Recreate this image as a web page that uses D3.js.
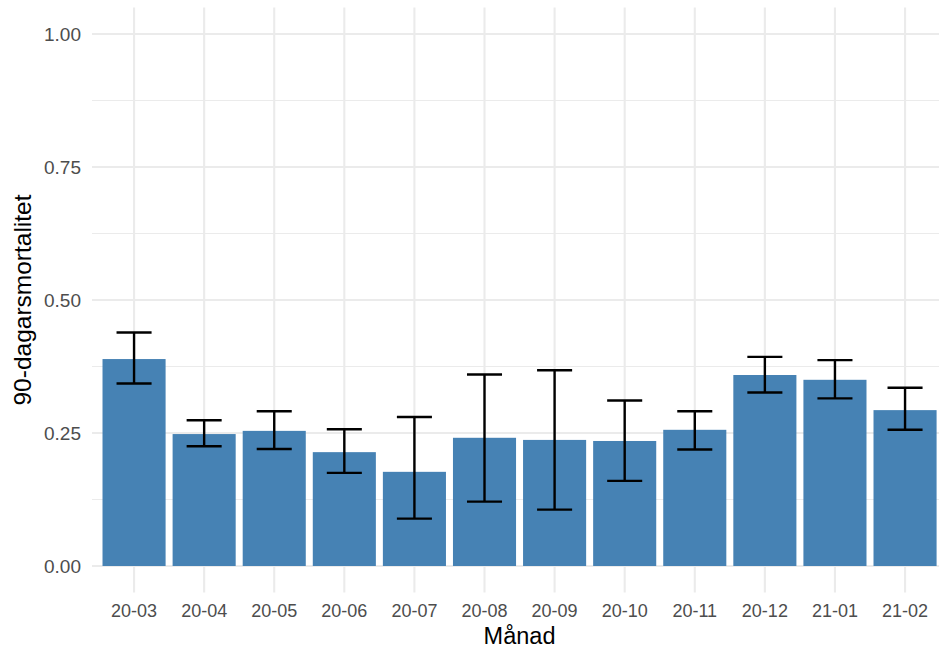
<!DOCTYPE html>
<html>
<head>
<meta charset="utf-8">
<script src="https://cdn.jsdelivr.net/npm/d3@7"></script>
<style>
  body { margin: 0; background: #fff; }
  svg { display: block; font-family: "Liberation Sans", Arial, sans-serif; }
</style>
</head>
<body>
<svg id="chart" width="939" height="651"></svg>
<script>
let months = ["20-03", "20-04", "20-05", "20-06", "20-07", "20-08", "20-09", "20-10", "20-11", "20-12", "21-01", "21-02"];
let mortality = [0.389, 0.248, 0.254, 0.214, 0.177, 0.241, 0.237, 0.235, 0.256, 0.359, 0.350, 0.293];
let lower = [0.343, 0.225, 0.220, 0.175, 0.089, 0.121, 0.106, 0.160, 0.219, 0.326, 0.315, 0.256];
let upper = [0.439, 0.274, 0.291, 0.257, 0.280, 0.360, 0.368, 0.311, 0.291, 0.393, 0.387, 0.335];
let yTicks = [0, 0.25, 0.5, 0.75, 1];
let yMinor = [0.125, 0.375, 0.625, 0.875];

let data = months.map((m, i) => ({month: m, value: mortality[i], lo: lower[i], hi: upper[i]}));

let svg = d3.select("#chart");

// x: discrete, bars 0.9 wide, 0.6 units of expansion on each side
let xScale = d3.scaleBand()
  .domain(months)
  .range([92, 947.1])
  .paddingInner(0.1)
  .paddingOuter(0.15);

let yScale = d3.scaleLinear().domain([0, 1]).range([566, 34]);
let panelTop = yScale(1.05), panelBottom = yScale(-0.05);
let panelLeft = 92, panelRight = 947.1;

// grid
svg.append("g").selectAll("line")
  .data(yMinor)
  .enter().append("line")
  .attr("x1", panelLeft).attr("x2", panelRight)
  .attr("y1", d => yScale(d)).attr("y2", d => yScale(d))
  .attr("stroke", "#ebebeb").attr("stroke-width", 1.1);

svg.append("g").selectAll("line")
  .data(yTicks)
  .enter().append("line")
  .attr("x1", panelLeft).attr("x2", panelRight)
  .attr("y1", d => yScale(d)).attr("y2", d => yScale(d))
  .attr("stroke", "#ebebeb").attr("stroke-width", 2.1);

svg.append("g").selectAll("line")
  .data(months)
  .enter().append("line")
  .attr("x1", d => xScale(d) + xScale.bandwidth() / 2)
  .attr("x2", d => xScale(d) + xScale.bandwidth() / 2)
  .attr("y1", panelTop).attr("y2", panelBottom)
  .attr("stroke", "#ebebeb").attr("stroke-width", 2.1);

// bars
svg.selectAll(".bar")
  .data(data)
  .enter()
  .append("rect")
  .attr("class", "bar")
  .attr("x", d => xScale(d.month))
  .attr("width", xScale.bandwidth())
  .attr("y", d => yScale(d.value))
  .attr("height", d => yScale(0) - yScale(d.value))
  .attr("fill", "steelblue");

// error bars
let capHalf = xScale.step() * 0.25;
let err = svg.append("g")
  .attr("stroke", "black")
  .attr("stroke-width", 2.4);

data.forEach(d => {
  let cx = xScale(d.month) + xScale.bandwidth() / 2;
  err.append("line").attr("x1", cx).attr("x2", cx)
    .attr("y1", yScale(d.hi)).attr("y2", yScale(d.lo));
  err.append("line").attr("x1", cx - capHalf).attr("x2", cx + capHalf)
    .attr("y1", yScale(d.hi)).attr("y2", yScale(d.hi));
  err.append("line").attr("x1", cx - capHalf).attr("x2", cx + capHalf)
    .attr("y1", yScale(d.lo)).attr("y2", yScale(d.lo));
});

// axes (text only, like theme_minimal)
svg.append("g")
  .attr("transform", "translate(0," + panelBottom + ")")
  .call(d3.axisBottom(xScale).tickSize(0).tickPadding(12))
  .call(g => g.select(".domain").remove())
  .selectAll("text")
  .attr("fill", "#4d4d4d")
  .style("font-size", "18px");

svg.append("g")
  .attr("transform", "translate(" + (panelLeft - 11) + ",0)")
  .call(d3.axisLeft(yScale).tickValues(yTicks).tickFormat(d3.format(".2f")).tickSize(0).tickPadding(0))
  .call(g => g.select(".domain").remove())
  .selectAll("text")
  .attr("fill", "#4d4d4d")
  .style("font-size", "19px");

svg.append("text")
  .attr("x", (panelLeft + panelRight) / 2)
  .attr("y", 644)
  .attr("text-anchor", "middle")
  .style("font-size", "23.5px")
  .text("Månad");

svg.append("text")
  .attr("transform", "translate(31," + yScale(0.5) + ") rotate(-90)")
  .attr("text-anchor", "middle")
  .style("font-size", "24.5px")
  .text("90-dagarsmortalitet");
</script>
</body>
</html>
